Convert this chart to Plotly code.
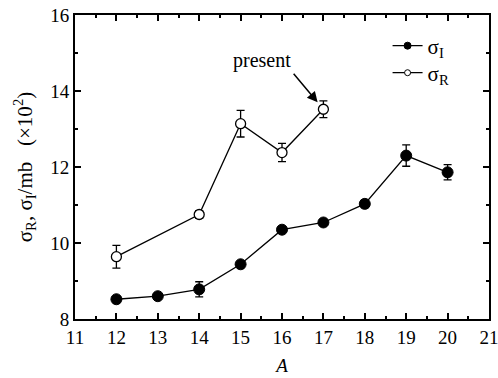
import plotly.graph_objects as go

A_I = [12, 13, 14, 15, 16, 17, 18, 19, 20]
sigma_I = [8.52, 8.60, 8.78, 9.44, 10.35, 10.54, 11.03, 12.30, 11.86]
err_I = [0.05, 0.06, 0.2, 0.05, 0.05, 0.05, 0.1, 0.28, 0.2]

A_R = [12, 14, 15, 16, 17]
sigma_R = [9.64, 10.75, 13.14, 12.38, 13.52]
err_R = [0.3, 0.1, 0.35, 0.24, 0.22]

FONT = "Liberation Serif"

fig = go.Figure()
fig.add_trace(go.Scatter(
    x=A_I, y=sigma_I, mode="lines+markers", name="σ<sub>I</sub>", showlegend=False,
    line=dict(color="black", width=1.3),
    marker=dict(symbol="circle", size=11, color="black", line=dict(color="black", width=1)),
    error_y=dict(type="data", array=err_I, color="black", thickness=1.3, width=4),
))
fig.add_trace(go.Scatter(
    x=A_R, y=sigma_R, mode="lines+markers", name="σ<sub>R</sub>", showlegend=False,
    line=dict(color="black", width=1.3),
    marker=dict(symbol="circle", size=10, color="white", line=dict(color="black", width=1.3)),
    error_y=dict(type="data", array=err_R, color="black", thickness=1.3, width=4),
))
# legend entries (smaller symbols, as in the reference), each in its own legend box
fig.add_trace(go.Scatter(
    x=[None], y=[None], mode="lines+markers", name="σ<sub>I</sub>", legend="legend",
    line=dict(color="black", width=1.3),
    marker=dict(symbol="circle", size=7, color="black", line=dict(color="black", width=1)),
))
fig.add_trace(go.Scatter(
    x=[None], y=[None], mode="lines+markers", name="σ<sub>R</sub>", legend="legend2",
    line=dict(color="black", width=1.3),
    marker=dict(symbol="circle", size=6, color="white", line=dict(color="black", width=1)),
))

fig.add_annotation(
    x=17, y=13.52, xref="x", yref="y",
    ax=-31, ay=-37, axref="pixel", ayref="pixel",
    text="", showarrow=True, arrowhead=2, arrowsize=1.4, arrowwidth=1.5,
    arrowcolor="black", standoff=9,
)
fig.add_annotation(
    x=15.52, y=14.79, xref="x", yref="y", text="present", showarrow=False,
    font=dict(family=FONT, size=20, color="black"),
)

axis_common = dict(
    showline=True, linecolor="black", linewidth=2, mirror="allticks",
    ticks="inside", ticklen=6, tickwidth=1.5, tickcolor="black",
    showgrid=False, zeroline=False, automargin=False, ticklabeloverflow="allow",
    tickfont=dict(family=FONT, size=19, color="black"),
)

legend_common = dict(
    xanchor="left", yanchor="middle", bgcolor="rgba(0,0,0,0)",
    font=dict(family=FONT, size=21, color="black"), itemwidth=30,
)

fig.update_layout(
    width=498, height=378,
    margin=dict(l=75, r=9, t=15, b=59),
    paper_bgcolor="white", plot_bgcolor="white",
    xaxis=dict(
        range=[11, 21], dtick=1, tick0=11,
        minor=dict(dtick=0.5, tick0=11, ticks="inside", ticklen=3, tickwidth=1.5, tickcolor="black"),
        title=dict(text="<i>A</i>", font=dict(family=FONT, size=19, color="black"), standoff=12),
        **axis_common,
    ),
    yaxis=dict(
        range=[8, 16], dtick=2, tick0=8,
        minor=dict(dtick=1, tick0=8, ticks="inside", ticklen=3, tickwidth=1.5, tickcolor="black"),
        title=dict(text="σ<sub>R</sub>, σ<sub>I</sub>/mb&nbsp;&nbsp;&nbsp;(×10<sup>2</sup>)",
                   font=dict(family=FONT, size=21, color="black"), standoff=12),
        **axis_common,
    ),
    legend=dict(x=0.755, y=0.898, **legend_common),
    legend2=dict(x=0.755, y=0.809, **legend_common),
    showlegend=True,
)

# remove the default 8px page margin so the 498x378 figure fills the window exactly
fig.write_html("out.html", config={"displayModeBar": False},
               post_script="document.body.style.margin='0px';")
